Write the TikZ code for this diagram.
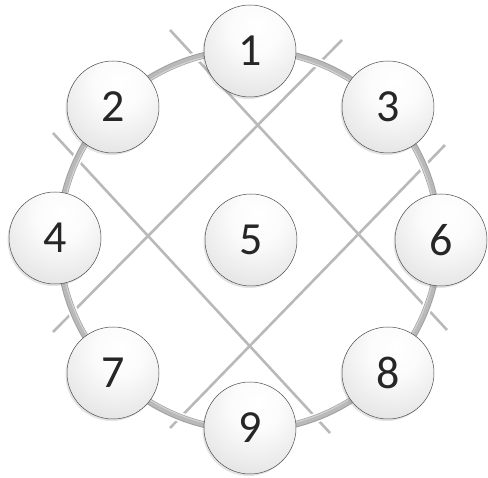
\documentclass[tikz,border=0pt]{standalone}
\usepackage{fontspec}
\setmainfont{Carlito}
\usetikzlibrary{shadows}
\pgfdeclareradialshading{pearl}{\pgfpoint{4bp}{14bp}}{%
  color(0bp)=(white); color(14bp)=(white!97!gray); color(30bp)=(gray!16);
  color(46bp)=(gray!32); color(56bp)=(gray!30); color(62bp)=(white!80!gray); color(100bp)=(white)}
\begin{document}
\begin{tikzpicture}[x=1pt,y=-1pt,
  grid/.style={draw=gray!55, line width=2.6pt},
  ringhalo/.style={draw=white, line width=10pt},
  ringedge/.style={draw=gray!75, line width=6.5pt},
  ringline/.style={draw=gray!55, line width=4.5pt},
  ringhl/.style={draw=gray!35, line width=1.2pt},
  ball/.style={circle, minimum size=92pt, inner sep=0pt, shading=pearl,
    draw=gray!60!black, line width=0.5pt,
    drop shadow={opacity=0.22, shadow xshift=-1.5pt, shadow yshift=-2pt},
    font=\fontsize{46}{46}\selectfont, text=black!85}]
\useasboundingbox (0,0) rectangle (488,478);
% grid line end points
\coordinate (a1) at (170,30);  \coordinate (a2) at (447,330);
\coordinate (b1) at (53,133);  \coordinate (b2) at (330,433);
\coordinate (c1) at (342,40);  \coordinate (c2) at (53,332);
\coordinate (d1) at (445,145); \coordinate (d2) at (170,428);
\coordinate (ctr) at (249,240);
\draw[grid] (a1) -- (a2);
\draw[grid] (b1) -- (b2);
\draw[grid] (c1) -- (c2);
\draw[grid] (d1) -- (d2);
% ring
\draw[ringhalo] (ctr) circle[radius=190];
\draw[ringedge] (ctr) circle[radius=190];
\draw[ringline] (ctr) circle[radius=190];
\draw[ringhl] (ctr) circle[radius=188];
% balls
\node[ball] (n1) at (250,51) {1};
\node[ball] (n2) at (113,107) {2};
\node[ball] (n3) at (388,107) {3};
\node[ball] (n4) at (55,238) {4};
\node[ball] (n5) at (251,240) {5};
\node[ball] (n6) at (441,240) {6};
\node[ball] (n7) at (113,373) {7};
\node[ball] (n8) at (388,373) {8};
\node[ball] (n9) at (250,428) {9};
\end{tikzpicture}
\end{document}
